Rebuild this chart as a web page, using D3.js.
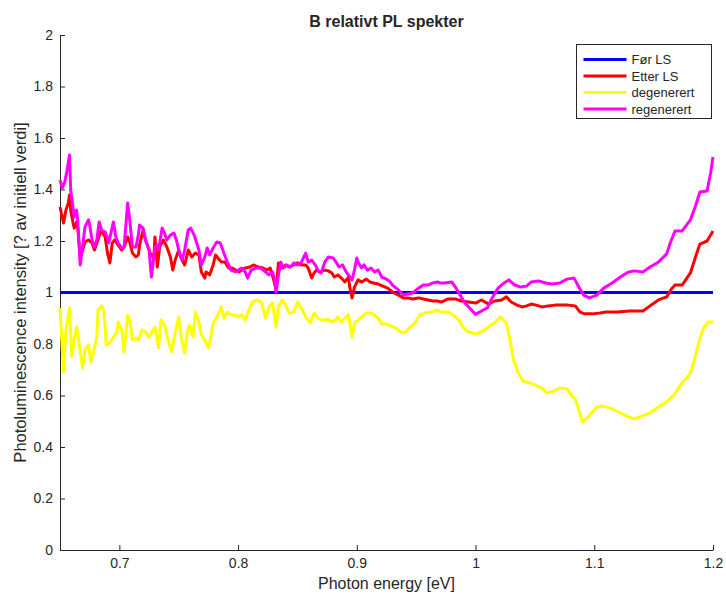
<!DOCTYPE html>
<html>
<head>
<meta charset="utf-8">
<script src="https://cdn.jsdelivr.net/npm/d3@7"></script>
<style>
  body { margin: 0; background: #fff; }
  svg { display: block; }
  text { font-family: "Liberation Sans", Arial, Helvetica, sans-serif; fill: #262626; }
</style>
</head>
<body>
<svg id="chart" width="726" height="595"></svg>
<script>
// Relative PL spectra (intensity divided by the initial spectrum)
const seriesNames = ["Før LS", "Etter LS", "degenerert", "regenerert"];
const seriesColors = ["#0000ff", "#ff0000", "#ffff00", "#ff00ff"];

// Før LS: reference, identically 1
const forE = [0.65, 1.2];
const forV = [1, 1];

// Etter LS
const etterE = [0.650,0.653,0.655,0.657,0.658,0.659,0.661,0.662,0.664,0.665,0.667,0.669,0.671,0.674,0.677,0.679,0.682,0.684,0.686,0.688,0.690,0.692,0.694,0.696,0.699,0.702,0.704,0.707,0.709,0.711,0.714,0.716,0.717,0.720,0.722,0.726,0.729,0.730,0.732,0.734,0.737,0.740,0.743,0.745,0.747,0.750,0.752,0.755,0.758,0.761,0.764,0.767,0.769,0.772,0.773,0.776,0.779,0.781,0.783,0.786,0.789,0.792,0.795,0.798,0.801,0.803,0.806,0.810,0.813,0.817,0.821,0.824,0.827,0.830,0.832,0.834,0.837,0.840,0.843,0.847,0.850,0.853,0.857,0.859,0.862,0.864,0.866,0.869,0.873,0.876,0.879,0.881,0.884,0.887,0.890,0.893,0.894,0.896,0.898,0.901,0.904,0.908,0.911,0.914,0.918,0.922,0.926,0.930,0.935,0.939,0.943,0.947,0.952,0.956,0.960,0.964,0.968,0.971,0.977,0.983,0.988,0.994,1.000,1.005,1.011,1.016,1.022,1.026,1.030,1.035,1.039,1.043,1.047,1.051,1.056,1.061,1.067,1.072,1.078,1.084,1.088,1.092,1.098,1.105,1.110,1.119,1.130,1.141,1.147,1.154,1.161,1.165,1.168,1.174,1.181,1.185,1.189,1.195,1.200];
const etterV = [1.332,1.270,1.320,1.348,1.379,1.320,1.270,1.250,1.274,1.250,1.138,1.165,1.196,1.204,1.192,1.165,1.204,1.235,1.231,1.216,1.153,1.115,1.192,1.204,1.184,1.165,1.177,1.216,1.192,1.153,1.138,1.146,1.184,1.243,1.204,1.153,1.134,1.216,1.099,1.177,1.204,1.177,1.138,1.087,1.126,1.165,1.134,1.107,1.165,1.138,1.153,1.146,1.080,1.056,1.080,1.068,1.107,1.146,1.134,1.118,1.118,1.095,1.095,1.087,1.080,1.087,1.095,1.099,1.107,1.099,1.095,1.087,1.095,1.049,1.010,1.115,1.095,1.107,1.099,1.107,1.115,1.107,1.107,1.095,1.056,1.076,1.087,1.080,1.087,1.084,1.076,1.060,1.068,1.056,1.041,1.060,1.021,0.979,1.021,1.049,1.041,1.052,1.041,1.037,1.033,1.025,1.017,1.002,0.990,0.979,0.979,0.975,0.979,0.975,0.971,0.967,0.967,0.963,0.975,0.975,0.967,0.963,0.959,0.971,0.955,0.967,0.971,0.983,0.963,0.951,0.944,0.948,0.955,0.951,0.944,0.948,0.951,0.951,0.951,0.948,0.924,0.917,0.917,0.920,0.924,0.924,0.928,0.928,0.948,0.971,0.983,1.014,1.029,1.029,1.076,1.134,1.188,1.200,1.239];

// degenerert
const degE = [0.650,0.653,0.655,0.658,0.660,0.662,0.664,0.666,0.669,0.671,0.674,0.676,0.678,0.681,0.682,0.685,0.687,0.689,0.692,0.695,0.698,0.699,0.702,0.704,0.707,0.709,0.711,0.714,0.716,0.719,0.722,0.725,0.727,0.730,0.733,0.735,0.738,0.741,0.744,0.747,0.750,0.752,0.755,0.757,0.759,0.762,0.764,0.767,0.769,0.772,0.775,0.777,0.779,0.781,0.783,0.786,0.788,0.791,0.794,0.798,0.800,0.803,0.806,0.809,0.812,0.816,0.820,0.823,0.826,0.829,0.832,0.834,0.837,0.840,0.843,0.847,0.850,0.854,0.857,0.861,0.864,0.867,0.870,0.873,0.876,0.879,0.882,0.884,0.887,0.890,0.893,0.896,0.898,0.901,0.904,0.908,0.912,0.917,0.921,0.925,0.929,0.933,0.938,0.941,0.944,0.949,0.953,0.957,0.963,0.968,0.971,0.977,0.981,0.986,0.990,0.994,1.000,1.005,1.011,1.016,1.021,1.026,1.029,1.032,1.036,1.040,1.045,1.050,1.056,1.060,1.066,1.071,1.077,1.081,1.084,1.087,1.090,1.095,1.102,1.108,1.115,1.122,1.127,1.134,1.140,1.147,1.154,1.161,1.167,1.174,1.181,1.185,1.189,1.192,1.196,1.200];
const degV = [0.940,0.691,0.854,0.940,0.750,0.816,0.866,0.804,0.707,0.777,0.796,0.730,0.765,0.827,0.932,0.948,0.932,0.796,0.804,0.827,0.847,0.885,0.854,0.769,0.913,0.885,0.816,0.823,0.816,0.854,0.847,0.827,0.843,0.866,0.785,0.893,0.874,0.816,0.769,0.843,0.905,0.827,0.765,0.843,0.874,0.827,0.924,0.885,0.835,0.816,0.785,0.827,0.882,0.893,0.913,0.944,0.901,0.924,0.913,0.913,0.905,0.913,0.893,0.932,0.963,0.971,0.959,0.901,0.944,0.959,0.866,0.944,0.971,0.951,0.920,0.924,0.963,0.932,0.905,0.882,0.920,0.901,0.893,0.893,0.897,0.885,0.893,0.905,0.885,0.901,0.913,0.827,0.882,0.893,0.905,0.920,0.920,0.905,0.878,0.878,0.870,0.862,0.843,0.847,0.862,0.882,0.913,0.920,0.924,0.932,0.924,0.924,0.913,0.893,0.862,0.847,0.839,0.847,0.866,0.882,0.905,0.882,0.816,0.738,0.687,0.656,0.649,0.641,0.629,0.610,0.617,0.629,0.625,0.598,0.586,0.544,0.497,0.517,0.555,0.559,0.548,0.532,0.520,0.509,0.520,0.532,0.555,0.575,0.602,0.649,0.687,0.750,0.823,0.862,0.885,0.885];

// regenerert
const regE = [0.650,0.652,0.654,0.656,0.658,0.659,0.662,0.664,0.665,0.667,0.669,0.671,0.674,0.675,0.677,0.679,0.681,0.683,0.685,0.688,0.690,0.691,0.695,0.697,0.699,0.702,0.704,0.707,0.709,0.711,0.714,0.716,0.717,0.720,0.722,0.725,0.727,0.730,0.732,0.733,0.736,0.738,0.740,0.743,0.746,0.748,0.751,0.753,0.755,0.758,0.760,0.763,0.767,0.769,0.772,0.774,0.776,0.779,0.782,0.785,0.788,0.791,0.794,0.798,0.800,0.803,0.806,0.808,0.811,0.815,0.819,0.823,0.826,0.829,0.831,0.832,0.834,0.836,0.838,0.841,0.844,0.847,0.850,0.853,0.857,0.859,0.862,0.865,0.868,0.870,0.873,0.876,0.880,0.883,0.885,0.888,0.891,0.893,0.896,0.898,0.900,0.901,0.904,0.906,0.909,0.912,0.915,0.918,0.921,0.925,0.928,0.930,0.935,0.939,0.943,0.947,0.952,0.956,0.960,0.964,0.968,0.970,0.974,0.980,0.983,0.987,0.991,0.995,1.000,1.005,1.010,1.014,1.019,1.024,1.028,1.033,1.038,1.043,1.047,1.053,1.059,1.064,1.071,1.077,1.083,1.087,1.091,1.096,1.102,1.108,1.115,1.122,1.129,1.134,1.141,1.147,1.154,1.161,1.164,1.168,1.174,1.181,1.185,1.189,1.195,1.198,1.200];
const regV = [1.437,1.406,1.429,1.476,1.534,1.398,1.293,1.320,1.274,1.107,1.177,1.254,1.282,1.262,1.204,1.177,1.204,1.274,1.243,1.235,1.212,1.192,1.274,1.216,1.192,1.173,1.177,1.348,1.270,1.177,1.177,1.223,1.262,1.250,1.204,1.165,1.060,1.177,1.184,1.165,1.250,1.231,1.204,1.223,1.231,1.204,1.146,1.126,1.165,1.243,1.250,1.223,1.165,1.107,1.138,1.173,1.146,1.173,1.196,1.192,1.153,1.118,1.087,1.080,1.087,1.095,1.080,1.056,1.087,1.095,1.095,1.080,1.068,1.080,1.049,1.002,1.068,1.118,1.095,1.107,1.099,1.115,1.107,1.115,1.153,1.118,1.126,1.107,1.080,1.076,1.118,1.138,1.134,1.115,1.099,1.107,1.080,1.068,1.049,1.087,1.134,1.118,1.095,1.107,1.087,1.095,1.080,1.087,1.060,1.052,1.041,1.029,1.010,0.990,0.994,0.998,1.017,1.029,1.029,1.037,1.041,1.037,1.037,1.041,1.021,0.990,0.959,0.940,0.915,0.928,0.940,0.979,1.017,1.037,1.049,1.029,1.021,1.025,1.041,1.045,1.037,1.033,1.037,1.052,1.056,1.021,0.990,0.979,0.990,1.017,1.037,1.060,1.080,1.084,1.080,1.099,1.118,1.150,1.192,1.239,1.239,1.282,1.332,1.390,1.394,1.464,1.526];

// Axis ticks and labels
const xTicks = [0.7, 0.8, 0.9, 1.0, 1.1, 1.2];
const xTickLabels = ["0.7", "0.8", "0.9", "1", "1.1", "1.2"];
const yTicks = [0, 0.2, 0.4, 0.6, 0.8, 1.0, 1.2, 1.4, 1.6, 1.8, 2.0];
const yTickLabels = ["0", "0.2", "0.4", "0.6", "0.8", "1", "1.2", "1.4", "1.6", "1.8", "2"];

const titleText = "B relativt PL spekter";
const xLabelText = "Photon energy [eV]";
const yLabelText = "Photoluminescence intensity [? av initiell verdi]";

const W = 726, H = 595;
const margin = { top: 35, right: 13, bottom: 45, left: 60 };
const svg = d3.select("#chart");

const x = d3.scaleLinear().domain([0.65, 1.2]).range([margin.left, W - margin.right]);
const y = d3.scaleLinear().domain([0, 2]).range([H - margin.bottom, margin.top]);

const axisColor = "#262626";

// x axis
const xAxis = svg.append("g")
  .attr("transform", `translate(0,${H - margin.bottom})`)
  .call(d3.axisBottom(x).tickValues(xTicks)
    .tickFormat((d, i) => xTickLabels[i])
    .tickSizeInner(-5).tickSizeOuter(0).tickPadding(8));
// y axis
const yAxis = svg.append("g")
  .attr("transform", `translate(${margin.left},0)`)
  .call(d3.axisLeft(y).tickValues(yTicks)
    .tickFormat((d, i) => yTickLabels[i])
    .tickSizeInner(-5).tickSizeOuter(0).tickPadding(7));

[xAxis, yAxis].forEach(g => {
  g.select(".domain").attr("stroke", axisColor).attr("stroke-width", 1);
  g.selectAll(".tick line").attr("stroke", axisColor).attr("stroke-width", 1);
  g.selectAll(".tick text")
    .attr("fill", axisColor)
    .style("font-size", "14px")
    .style("font-family", '"Liberation Sans", Arial, sans-serif');
});

// series lines
const line = d3.line().x(d => x(d[0])).y(d => y(d[1]));
const zipSeries = (E, V) => E.map((e, i) => [e, V[i]]);
const allSeries = [
  zipSeries(forE, forV),
  zipSeries(etterE, etterV),
  zipSeries(degE, degV),
  zipSeries(regE, regV)
];

svg.append("g").selectAll("path")
  .data(allSeries)
  .join("path")
  .attr("d", line)
  .attr("fill", "none")
  .attr("stroke", (d, i) => seriesColors[i])
  .attr("stroke-width", 3)
  .attr("stroke-linejoin", "round");

// title
svg.append("text")
  .attr("x", (margin.left + W - margin.right) / 2)
  .attr("y", 27)
  .attr("text-anchor", "middle")
  .style("font-size", "16px")
  .style("font-weight", "bold")
  .text(titleText);

// x label
svg.append("text")
  .attr("x", (margin.left + W - margin.right) / 2)
  .attr("y", 589)
  .attr("text-anchor", "middle")
  .style("font-size", "16px")
  .text(xLabelText);

// y label
svg.append("text")
  .attr("transform", `translate(26,${(margin.top + H - margin.bottom) / 2}) rotate(-90)`)
  .attr("text-anchor", "middle")
  .style("font-size", "16.5px")
  .text(yLabelText);

// legend
const lg = svg.append("g").attr("transform", "translate(576.5,44.5)");
lg.append("rect")
  .attr("width", 135).attr("height", 74)
  .attr("fill", "#fff").attr("stroke", axisColor).attr("stroke-width", 1);
const rowY = [15, 31.5, 48, 64.5];
seriesNames.forEach((name, i) => {
  lg.append("line")
    .attr("x1", 7).attr("x2", 50)
    .attr("y1", rowY[i]).attr("y2", rowY[i])
    .attr("stroke", seriesColors[i]).attr("stroke-width", 3);
  lg.append("text")
    .attr("x", 55).attr("y", rowY[i] + 4.5)
    .style("font-size", "13px")
    .text(name);
});
</script>
</body>
</html>
